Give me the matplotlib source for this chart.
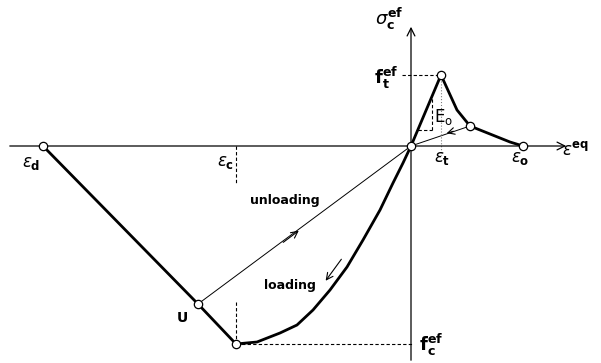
import matplotlib.pyplot as plt

# key strains / stresses (arbitrary units, origin at 0)
eps_d = -3.68
eps_c = -1.75
f_c = -1.98
eps_t = 0.30
f_t = 0.71
eps_0 = 1.12
U = (-2.13, -1.58)
soft = (0.59, 0.20)

# compression branch: softening from eps_d down to the peak, then loading curve to origin
comp_soft_x = [eps_d, U[0], eps_c]
comp_soft_y = [0.0, U[1], f_c]
load_x = [eps_c, -1.54, -1.31, -1.14, -0.98, -0.81, -0.64, -0.48, -0.31, -0.18, -0.08, 0.0]
load_y = [f_c, -1.96, -1.87, -1.79, -1.64, -1.44, -1.21, -0.94, -0.64, -0.37, -0.17, 0.0]

# tension branch
ten_x = [0.0, eps_t, 0.46, soft[0], 0.79, 0.99, eps_0]
ten_y = [0.0, f_t, 0.36, soft[1], 0.12, 0.04, 0.0]

fig = plt.figure(figsize=(6.01, 3.63), dpi=100)
ax = fig.add_axes([0, 0, 1, 1])
ax.set_xlim(-4.11, 1.90)
ax.set_ylim(-2.17, 1.46)
ax.axis('off')

# axes with arrows
ax.annotate('', xy=(1.58, 0), xytext=(-4.04, 0),
            arrowprops=dict(arrowstyle='->', lw=0.9, color='black', mutation_scale=14))
ax.annotate('', xy=(0, 1.22), xytext=(0, -2.17),
            arrowprops=dict(arrowstyle='->', lw=0.9, color='black', mutation_scale=14))

# curves
ax.plot(comp_soft_x, comp_soft_y, color='black', lw=2.0)
ax.plot(load_x, load_y, color='black', lw=2.0)
ax.plot(ten_x, ten_y, color='black', lw=2.0)
ax.plot([U[0], 0], [U[1], 0], color='black', lw=0.7)
ax.plot([soft[0], 0], [soft[1], 0], color='black', lw=0.7)

# helper lines
ax.plot([-0.09, eps_t], [f_t, f_t], color='black', lw=0.8, ls=(0, (3, 2)))
ax.plot([eps_t, eps_t], [f_t, -0.09], color='gray', lw=0.8, ls=':')
ax.plot([0.068, 0.21], [0.16, 0.16], color='black', lw=0.8, ls=(0, (3, 2)))
ax.plot([0.21, 0.21], [0.16, 0.48], color='black', lw=0.8, ls=(0, (3, 2)))
ax.plot([eps_c, eps_c], [0, -0.37], color='black', lw=0.8, ls=(0, (3, 2)))
ax.plot([eps_c, eps_c], [-1.56, f_c], color='black', lw=0.8, ls=(0, (3, 2)))
ax.plot([eps_c, 0.02], [f_c, f_c], color='black', lw=0.8, ls=(0, (3, 2)))

# open circles
px = [eps_d, U[0], eps_c, 0, eps_t, soft[0], eps_0]
py = [0, U[1], f_c, 0, f_t, soft[1], 0]
ax.plot(px, py, 'o', ms=6, mfc='white', mec='black', mew=0.9, zorder=5)

# direction arrows
ax.annotate('', xy=(-1.10, -0.83), xytext=(-1.30, -0.98),
            arrowprops=dict(arrowstyle='->', lw=0.8, color='black', mutation_scale=12))
ax.annotate('', xy=(0.33, 0.12), xytext=(0.45, 0.155),
            arrowprops=dict(arrowstyle='->', lw=0.8, color='black', mutation_scale=12))
ax.annotate('', xy=(-0.87, -1.37), xytext=(-0.68, -1.11),
            arrowprops=dict(arrowstyle='->', lw=0.8, color='black', mutation_scale=12))

# labels
ax.text(-0.22, 1.27, r'$\sigma_\mathbf{c}^\mathbf{ef}$', fontsize=13, ha='center', va='center')
ax.text(-0.25, 0.68, r'$\mathbf{f}_\mathbf{t}^\mathbf{ef}$', fontsize=13, ha='center', va='center')
ax.text(0.20, -1.99, r'$\mathbf{f}_\mathbf{c}^\mathbf{ef}$', fontsize=13, ha='center', va='center')
ax.text(-3.80, -0.17, r'$\varepsilon_\mathbf{d}$', fontsize=12, ha='center', va='center')
ax.text(-1.85, -0.16, r'$\varepsilon_\mathbf{c}$', fontsize=12, ha='center', va='center')
ax.text(0.31, -0.12, r'$\varepsilon_\mathbf{t}$', fontsize=12, ha='center', va='center')
ax.text(1.09, -0.12, r'$\varepsilon_\mathbf{o}$', fontsize=12, ha='center', va='center')
ax.text(1.65, -0.04, r'$\varepsilon^\mathbf{eq}$', fontsize=12, ha='center', va='center')
ax.text(0.33, 0.29, r'$\mathrm{E_o}$', fontsize=12, ha='center', va='center')
ax.text(-1.26, -0.55, 'unloading', fontsize=9, fontweight='bold', ha='center', va='center')
ax.text(-1.21, -1.39, 'loading', fontsize=9, fontweight='bold', ha='center', va='center')
ax.text(-2.29, -1.72, 'U', fontsize=10, fontweight='bold', ha='center', va='center')

fig.savefig('out.png', dpi=100)
